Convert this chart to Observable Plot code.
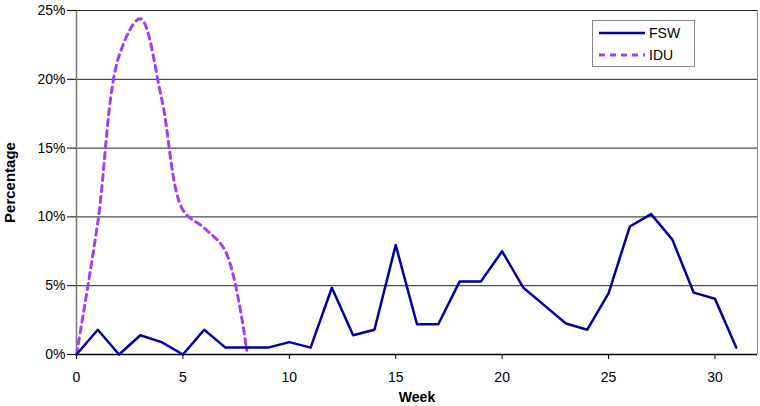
<!DOCTYPE html>
<html><head><meta charset="utf-8">
<script src="https://cdn.jsdelivr.net/npm/d3@7"></script>
<script src="https://cdn.jsdelivr.net/npm/@observablehq/plot@0.6"></script>
<style>
body{margin:0;background:#fff;font-family:"Liberation Sans",Arial,sans-serif}
#wrap{position:relative;width:760px;height:406px}
#legend{position:absolute;left:592px;top:20px;width:103px;height:47px;border:1px solid #888;background:#fff;box-sizing:border-box}
#wrap svg g[aria-label="x-axis label"] text{font-weight:bold;font-size:14px}
#wrap svg g[aria-label="y-axis label"] text{font-weight:bold;font-size:15px}
</style></head><body>
<div id="wrap"><div id="legend"></div></div>
<script>
const fswWeeks = [0,1,2,3,4,5,6,7,8,9,10,11,12,13,14,15,16,17,18,19,20,21,22,23,24,25,26,27,28,29,30,31];
const fswValues = [0,1.8,0,1.4,0.9,0,1.8,0.5,0.5,0.5,0.9,0.5,4.85,1.4,1.8,7.95,2.2,2.2,5.3,5.3,7.5,4.85,3.55,2.25,1.8,4.45,9.3,10.2,8.35,4.5,4.05,0.5];
const iduWeeks = [0,1,2,3,4,5,6,7,8];
const iduValues = [0,9.6,21.7,24.4,18.6,10.5,9.2,7.5,0.3];
const xTicks = [0,5,10,15,20,25,30];
const yTicks = [0,5,10,15,20,25];
const seriesNames = ["FSW","IDU"];

const fsw = fswWeeks.map((w,i)=>({week:w,value:fswValues[i]}));
const idu = iduWeeks.map((w,i)=>({week:w,value:iduValues[i]}));

const chart = Plot.plot({
  width:760, height:406,
  marginLeft:76, marginRight:3, marginTop:10, marginBottom:52,
  style:{fontFamily:"'Liberation Sans', Arial, sans-serif", fontSize:"14px", background:"#fff", color:"#000"},
  x:{domain:[0,32]},
  y:{domain:[0,25]},
  marks:[
    Plot.ruleY(yTicks.filter(d=>d>0), {stroke:"#222", strokeWidth:1}),
    Plot.ruleX([32], {stroke:"#888", strokeWidth:1}),
    Plot.ruleX([0], {stroke:"#777", strokeWidth:1.5}),
    Plot.ruleY([0], {stroke:"#000", strokeWidth:1.5}),
    Plot.axisX({ticks:xTicks, tickSize:5, tickPadding:13, label:"Week", labelAnchor:"center", labelOffset:47, labelArrow:false, fontSize:14}),
    Plot.axisY({ticks:yTicks, tickSize:9, tickPadding:2, tickFormat:d=>d+"%", label:"Percentage", labelAnchor:"center", labelOffset:72, labelArrow:false, fontSize:14}),
    Plot.line(idu, {x:"week", y:"value", stroke:"#a040f0", strokeWidth:3, strokeDasharray:"6,5", curve:"catmull-rom"}),
    Plot.line(fsw, {x:"week", y:"value", stroke:"#00009c", strokeWidth:2.5})
  ]
});
document.getElementById("wrap").prepend(chart);

const lg = d3.select("#legend").append("svg").attr("width",101).attr("height",45);
const styles = [{stroke:"#00009c", dash:null, w:2.5},{stroke:"#a040f0", dash:"6,5", w:3}];
seriesNames.forEach((name,i)=>{
  const y = 12 + i*22;
  lg.append("line").attr("x1",6).attr("x2",52).attr("y1",y).attr("y2",y)
    .attr("stroke",styles[i].stroke).attr("stroke-width",styles[i].w)
    .attr("stroke-dasharray",styles[i].dash);
  lg.append("text").attr("x",56).attr("y",y+5).text(name)
    .attr("font-family","'Liberation Sans', Arial, sans-serif").attr("font-size",14);
});
</script>
</body></html>
